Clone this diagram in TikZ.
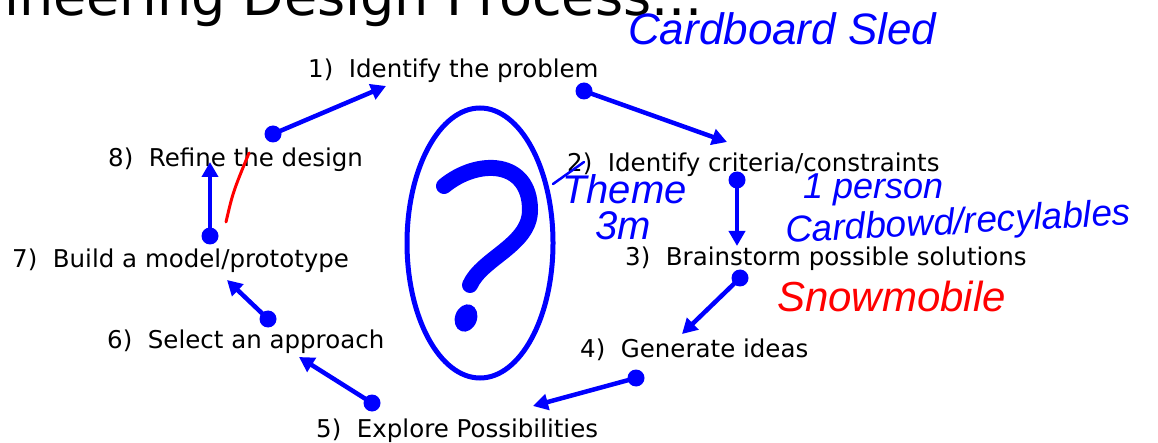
\documentclass[tikz,border=0pt]{standalone}
\usepackage{fontspec}
\setmainfont{DejaVu Sans}
\newfontfamily\handfont{Liberation Sans}
\usepackage{tikz}
\usetikzlibrary{arrows.meta, positioning, shapes.geometric}
\tikzset{
	stepbox/.style={anchor=base west, inner sep=0pt, font=\fontsize{24.5}{26}\selectfont}, % the eight steps
	flow/.style={draw=blue, line width=4.5pt, -{Triangle[length=15pt, width=16pt]}}, % step to step arrows
	dotmark/.style={fill=blue}, % tail dot of each arrow
	note/.style={anchor=base west, inner sep=0pt, text=blue, font=\handfont\itshape\fontsize{40}{40}\selectfont}, % handwritten notes
}

\begin{document}
\begin{tikzpicture}[x=1pt, y=-1pt]
		\useasboundingbox (0,0) rectangle (1158,443);
		\clip (0,0) rectangle (1158,443);
		
		% title, cut at the top
		\node[anchor=base west, inner sep=0pt, font=\fontsize{54}{54}\selectfont] (title) at (4,16) {ineering Design Process...};
		
		% the steps
		\node[stepbox] (s1) at (308,78) {1)\ \ Identify the problem};
		\node[stepbox] (s2) at (567,172) {2)\ \ Identify criteria/constraints};
		\node[stepbox] (s3) at (625,266) {3)\ \ Brainstorm possible solutions};
		\node[stepbox] (s4) at (580,357) {4)\ \ Generate ideas};
		\node[stepbox] (s5) at (316,437) {5)\ \ Explore Possibilities};
		\node[stepbox] (s6) at (107,348) {6)\ \ Select an approach};
		\node[stepbox] (s7) at (12,268) {7)\ \ Build a model/prototype};
		\node[stepbox] (s8) at (108,167) {8)\ \ Refine the design};
		
		% arrow ends
		\coordinate (t1) at (273,134); \coordinate (h1) at (386,86);
		\coordinate (t2) at (584,91);  \coordinate (h2) at (727,142);
		\coordinate (t3) at (737,180); \coordinate (h3) at (737,246);
		\coordinate (t4) at (740,278); \coordinate (h4) at (682,334);
		\coordinate (t5) at (636,378); \coordinate (h5) at (533,406);
		\coordinate (t6) at (372,403); \coordinate (h6) at (299,357);
		\coordinate (t7) at (268,319); \coordinate (h7) at (227,280);
		\coordinate (t8) at (210,236); \coordinate (h8) at (210,162);
		
		\foreach \i in {1,...,8} {
			\draw[flow] (t\i) -- (h\i);
			\fill[dotmark] (t\i) circle (8.5pt);
		}
		
		% question mark in the middle
		\node[ellipse, draw=blue, line width=5pt, minimum width=146pt, minimum height=270pt, inner sep=0pt] (qmark) at (480,243) {};
		\draw[blue, line width=16pt, line cap=round] (444,186) .. controls (478,158) and (530,160) .. (530,210) .. controls (530,245) and (482,258) .. (470,285);
		\fill[blue, rotate around={-20:(466,318)}] (466,318) ellipse (11pt and 14pt);
		
		% handwritten notes
		\node[note, font=\handfont\itshape\fontsize{44}{44}\selectfont] (sled) at (628,45) {Cardboard Sled};
		\node[note] (theme) at (562,204) {Theme};
		\node[note] (len) at (595,240) {3m};
		\draw[blue, line width=2.5pt, line cap=round] (553,184) -- (584,162);
		\node[note, font=\handfont\itshape\fontsize{36}{36}\selectfont] (person) at (803,199) {1 person};
		\node[note, font=\handfont\itshape\fontsize{37}{37}\selectfont, rotate=3] (stuff) at (786,243) {Cardbowd/recylables};
		\node[note, text=red, font=\handfont\itshape\fontsize{42}{42}\selectfont] (idea) at (777,312) {Snowmobile};
		\draw[red, line width=3pt, line cap=round] (226,222) .. controls (233,192) .. (249,153);
		\end{tikzpicture}
\end{document}
